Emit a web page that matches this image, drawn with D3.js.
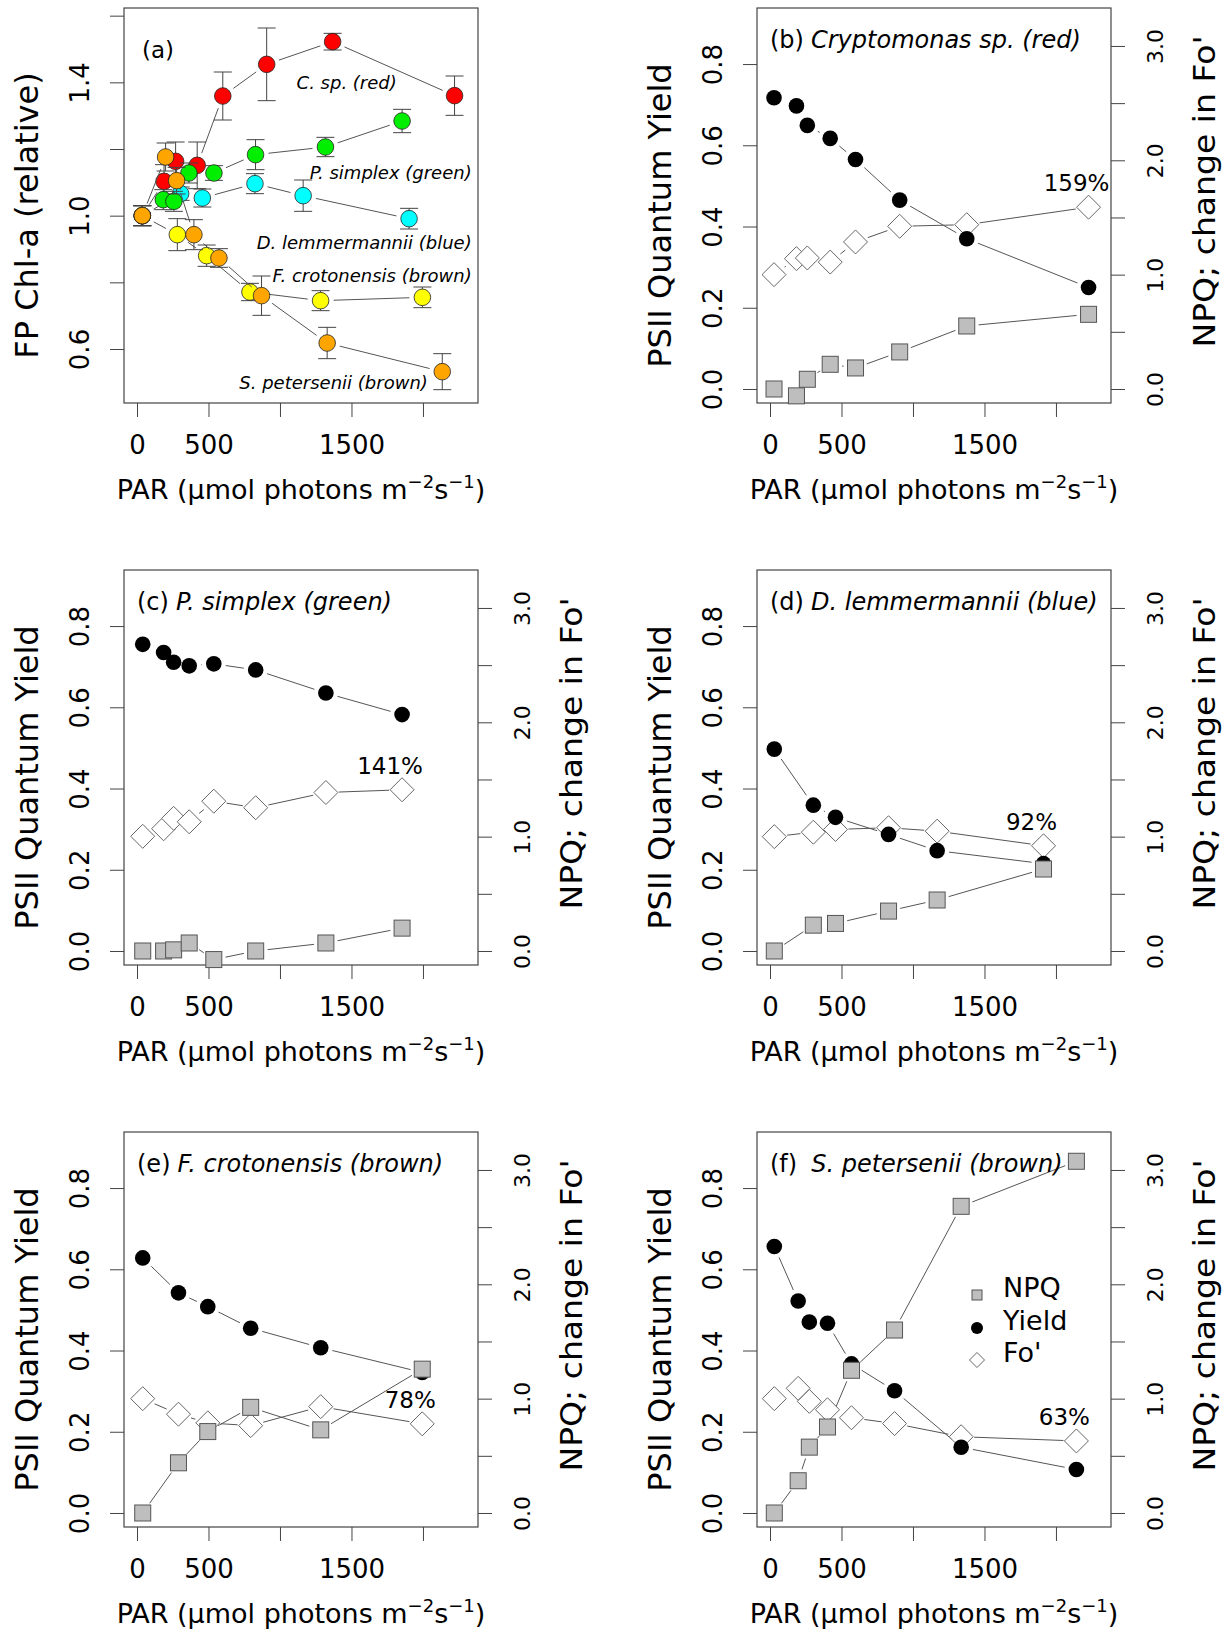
<!DOCTYPE html>
<html lang="en">
<head>
<meta charset="UTF-8">
<title>FP Chl-a and PSII response to PAR</title>
<script src="https://cdn.jsdelivr.net/npm/d3@7"></script>
<style>
  body { margin: 0; background: #fff; }
  svg text { font-family: "DejaVu Sans", Verdana, sans-serif; }
</style>
</head>
<body>
<svg id="fig" width="1226" height="1634"></svg>
<script>
// ---- panel (a): FP Chl-a relative to the dark value, mean +- error ----
const parRed = [37, 189, 270, 421, 600, 907, 1368, 2221];
const chlRed = [1.00, 1.103, 1.163, 1.151, 1.359, 1.454, 1.522, 1.36];
const errRed = [0.03, 0.05, 0.058, 0.07, 0.072, 0.109, 0.025, 0.059];

const parGreen = [37, 184, 258, 363, 538, 829, 1318, 1854];
const chlGreen = [1.00, 1.048, 1.043, 1.128, 1.128, 1.183, 1.206, 1.284];
const errGreen = [0.03, 0.03, 0.03, 0.03, 0.022, 0.045, 0.029, 0.035];

const parBlue = [37, 305, 457, 825, 1162, 1903];
const chlBlue = [1.00, 1.066, 1.053, 1.096, 1.06, 0.991];
const errBlue = [0.03, 0.02, 0.027, 0.03, 0.047, 0.031];

const parFcro = [37, 282, 487, 790, 1284, 1996];
const chlFcro = [1.00, 0.943, 0.88, 0.771, 0.745, 0.755];
const errFcro = [0.03, 0.048, 0.032, 0.026, 0.03, 0.031];

const parSpet = [37, 200, 277, 398, 573, 871, 1330, 2135];
const chlSpet = [1.00, 1.176, 1.105, 0.943, 0.873, 0.76, 0.618, 0.532];
const errSpet = [0.03, 0.042, 0.04, 0.045, 0.028, 0.059, 0.047, 0.054];

// ---- panels (b)-(f): PSII yield (left axis), NPQ and relative Fo' (right axis) ----
const parB = [28, 185, 261, 421, 598, 907, 1376, 2228];
const yieldB = [0.717, 0.697, 0.649, 0.617, 0.565, 0.465, 0.370, 0.250];
const foB = [1.00, 1.14, 1.146, 1.11, 1.286, 1.423, 1.437, 1.59];
const npqB = [0.0, -0.06, 0.085, 0.216, 0.184, 0.324, 0.551, 0.653];

const parC = [40, 186, 256, 365, 537, 830, 1321, 1854];
const yieldC = [0.755, 0.735, 0.711, 0.702, 0.707, 0.692, 0.635, 0.582];
const foC = [1.003, 1.069, 1.16, 1.13, 1.31, 1.253, 1.386, 1.41];
const npqC = [0.0, 0.0, 0.01, 0.07, -0.075, 0.0, 0.07, 0.2];

const parD = [30, 303, 458, 829, 1169, 1913];
const yieldD = [0.497, 0.359, 0.329, 0.287, 0.247, 0.215];
const foD = [1.00, 1.039, 1.063, 1.078, 1.048, 0.92];
const npqD = [0.0, 0.226, 0.241, 0.349, 0.446, 0.717];

const parE = [40, 290, 495, 795, 1285, 1995];
const yieldE = [0.628, 0.542, 0.508, 0.455, 0.407, 0.346];
const foE = [1.00, 0.864, 0.788, 0.764, 0.93, 0.78];
const npqE = [0.0, 0.439, 0.712, 0.924, 0.727, 1.258];

const parF = [30, 197, 275, 402, 570, 871, 1337, 2143];
const yieldF = [0.656, 0.522, 0.470, 0.467, 0.367, 0.301, 0.162, 0.107];
const foF = [1.00, 1.09, 0.976, 0.903, 0.833, 0.782, 0.667, 0.63];
const npqF = [0.0, 0.282, 0.576, 0.752, 1.248, 1.6, 2.682, 3.076];

// ---- ticks and labels ----
const xTicks = [0, 500, 1000, 1500, 2000];
const xLabeled = [0, 500, 1500];
const chlTicks = [0.6, 0.8, 1.0, 1.2, 1.4, 1.6];
const chlLabeled = [0.6, 1.0, 1.4];
const yieldTicks = [0, 0.2, 0.4, 0.6, 0.8];
const rightTicks = [0, 0.5, 1, 1.5, 2, 2.5, 3];
const rightLabeled = [0, 1, 2, 3];

const speciesLetters = ["(b)", "(c)", "(d)", "(e)", "(f)"];
const speciesNames = ["Cryptomonas sp. (red)", "P. simplex (green)", "D. lemmermannii (blue)",
                      "F. crotonensis (brown)", "S. petersenii (brown)"];
const foPercent = ["159%", "141%", "92%", "78%", "63%"];
const legendLabels = ["NPQ", "Yield", "Fo'"];

// panel (a) series labels, anchored (right end) in data units
const seriesLabels = ["C. sp. (red)", "P. simplex (green)", "D. lemmermannii (blue)",
                      "F. crotonensis (brown)", "S. petersenii (brown)"];
const seriesLabelPar = [1817, 2341, 2341, 2341, 2034];
const seriesLabelChl = [1.40, 1.13, 0.92, 0.821, 0.50];

// ---- layout ----
const W = 354, H = 395;
const colLeft = [124, 757];
const rowTop = [8, 570, 1132];
const INK = "#444";
const LINE = "#555";

const svg = d3.select("#fig");
svg.append("rect").attr("width", 1226).attr("height", 1634).attr("fill", "#fff");

const x = d3.scaleLinear().domain([-91, 2385]).range([0, W]);
const yChl = d3.scaleLinear().domain([0.438, 1.623]).range([H, 0]);
const yYield = d3.scaleLinear().domain([-0.0345, 0.938]).range([H, 0]);
const yRight = d3.scaleLinear().domain([-0.1225, 3.332]).range([H, 0]);

const has = (arr, d) => arr.some(v => Math.abs(v - d) < 1e-9);
const f1 = d3.format(".1f");

function panel(col, row) {
  return svg.append("g").attr("transform", `translate(${colLeft[col]},${rowTop[row]})`);
}

function cleanAxis(ax) {
  ax.select(".domain").remove();
  ax.selectAll(".tick line").attr("stroke", INK).attr("stroke-width", 1);
  ax.selectAll(".tick text").attr("fill", "#000");
}

function box(g) {
  g.append("rect").attr("width", W).attr("height", H)
    .attr("fill", "none").attr("stroke", INK).attr("stroke-width", 1.2);
}

function xAxis(g) {
  const ax = g.append("g").attr("transform", `translate(0,${H})`)
    .call(d3.axisBottom(x).tickValues(xTicks).tickSize(14)
      .tickFormat(d => has(xLabeled, d) ? d : ""));
  cleanAxis(ax);
  ax.selectAll(".tick text").attr("y", 42).attr("dy", "0.36em").attr("font-size", 26);

  const t = g.append("text").attr("x", W / 2).attr("y", H + 96)
    .attr("text-anchor", "middle").attr("font-size", 27);
  t.append("tspan").text("PAR (\u03bcmol photons m");
  t.append("tspan").attr("dy", -11).attr("font-size", 18).text("\u22122");
  t.append("tspan").attr("dy", 11).text("s");
  t.append("tspan").attr("dy", -11).attr("font-size", 18).text("\u22121");
  t.append("tspan").attr("dy", 11).text(")");
}

function yAxisLeft(g, scale, ticks, labeled, title) {
  const ax = g.append("g")
    .call(d3.axisLeft(scale).tickValues(ticks).tickSize(14)
      .tickFormat(d => has(labeled, d) ? f1(d) : ""));
  cleanAxis(ax);
  ax.selectAll(".tick text")
    .attr("x", 0).attr("y", -44).attr("dy", "0.36em")
    .attr("transform", "rotate(-90)").attr("text-anchor", "middle").attr("font-size", 26);
  g.append("text").attr("transform", `translate(-98,${H / 2 + 10}) rotate(-90)`)
    .attr("text-anchor", "middle").attr("dy", "0.36em").attr("font-size", 32).text(title);
}

function yAxisRight(g) {
  const ax = g.append("g").attr("transform", `translate(${W},0)`)
    .call(d3.axisRight(yRight).tickValues(rightTicks).tickSize(14)
      .tickFormat(d => has(rightLabeled, d) ? f1(d) : ""));
  cleanAxis(ax);
  ax.selectAll(".tick text")
    .attr("x", 0).attr("y", 44).attr("dy", "0.36em")
    .attr("transform", "rotate(-90)").attr("text-anchor", "middle").attr("font-size", 22);
  // stretched a little along its length to match the long label of the original
  g.append("text").attr("transform", `translate(${W + 93},${H / 2 - 14}) rotate(-90)`)
    .attr("text-anchor", "middle").attr("dy", "0.36em").attr("font-size", 30)
    .attr("textLength", 312).attr("lengthAdjust", "spacingAndGlyphs")
    .text("NPQ; change in Fo'");
}

// R type="b": segments stop short of the markers
function gapLine(g, pts, gap) {
  for (let i = 0; i < pts.length - 1; i++) {
    const [x0, y0] = pts[i], [x1, y1] = pts[i + 1];
    const dx = x1 - x0, dy = y1 - y0, len = Math.hypot(dx, dy);
    if (len <= 2 * gap) continue;
    const ux = dx / len, uy = dy / len;
    g.append("line")
      .attr("x1", x0 + ux * gap).attr("y1", y0 + uy * gap)
      .attr("x2", x1 - ux * gap).attr("y2", y1 - uy * gap)
      .attr("stroke", LINE).attr("stroke-width", 1);
  }
}

const diamondPath = s => `M0,${-s}L${s},0L0,${s}L${-s},0Z`;

function squares(g, pts, s) {
  g.selectAll(null).data(pts).join("rect")
    .attr("x", d => d[0] - s / 2).attr("y", d => d[1] - s / 2)
    .attr("width", s).attr("height", s)
    .attr("fill", "#bebebe").attr("stroke", "#555").attr("stroke-width", 1);
}
function dots(g, pts, r) {
  g.selectAll(null).data(pts).join("circle")
    .attr("cx", d => d[0]).attr("cy", d => d[1]).attr("r", r).attr("fill", "#000");
}
function diamonds(g, pts, s) {
  g.selectAll(null).data(pts).join("path")
    .attr("transform", d => `translate(${d[0]},${d[1]})`)
    .attr("d", diamondPath(s))
    .attr("fill", "#fff").attr("stroke", "#666").attr("stroke-width", 1);
}

// ---------------- panel (a) ----------------
{
  const g = panel(0, 0);
  box(g);
  xAxis(g);
  yAxisLeft(g, yChl, chlTicks, chlLabeled, "FP Chl-a (relative)");

  const series = [
    { par: parRed, chl: chlRed, err: errRed, color: "#ff0000" },
    { par: parBlue, chl: chlBlue, err: errBlue, color: "#00ffff" },
    { par: parGreen, chl: chlGreen, err: errGreen, color: "#00ee00" },
    { par: parFcro, chl: chlFcro, err: errFcro, color: "#ffff00" },
    { par: parSpet, chl: chlSpet, err: errSpet, color: "#ffa500" }
  ];

  series.forEach(s => {
    const pts = s.par.map((p, i) => [x(p), yChl(s.chl[i])]);
    gapLine(g, pts, 13);
    const cap = 9;
    s.par.forEach((p, i) => {
      const cx = x(p), yt = yChl(s.chl[i] + s.err[i]), yb = yChl(s.chl[i] - s.err[i]);
      const eb = g.append("g").attr("stroke", INK).attr("stroke-width", 1);
      eb.append("line").attr("x1", cx).attr("x2", cx).attr("y1", yt).attr("y2", yb);
      eb.append("line").attr("x1", cx - cap).attr("x2", cx + cap).attr("y1", yt).attr("y2", yt);
      eb.append("line").attr("x1", cx - cap).attr("x2", cx + cap).attr("y1", yb).attr("y2", yb);
    });
    g.selectAll(null).data(pts).join("circle")
      .attr("cx", d => d[0]).attr("cy", d => d[1]).attr("r", 8.3)
      .attr("fill", s.color).attr("stroke", "#222").attr("stroke-width", 0.8);
  });

  g.append("text").attr("x", 18).attr("y", 42).attr("dy", "0.36em")
    .attr("font-size", 23).text("(a)");

  seriesLabels.forEach((lab, i) => {
    g.append("text").attr("x", x(seriesLabelPar[i])).attr("y", yChl(seriesLabelChl[i]))
      .attr("dy", "0.36em").attr("text-anchor", "end")
      .attr("font-size", 18).attr("font-style", "italic").text(lab);
  });
}

// ---------------- panels (b)-(f) ----------------
const speciesData = [
  { par: parB, yld: yieldB, fo: foB, npq: npqB, col: 1, row: 0 },
  { par: parC, yld: yieldC, fo: foC, npq: npqC, col: 0, row: 1 },
  { par: parD, yld: yieldD, fo: foD, npq: npqD, col: 1, row: 1 },
  { par: parE, yld: yieldE, fo: foE, npq: npqE, col: 0, row: 2 },
  { par: parF, yld: yieldF, fo: foF, npq: npqF, col: 1, row: 2 }
];

speciesData.forEach((s, k) => {
  const g = panel(s.col, s.row);
  box(g);
  xAxis(g);
  yAxisLeft(g, yYield, yieldTicks, yieldTicks, "PSII Quantum Yield");
  yAxisRight(g);

  const foPts = s.par.map((p, i) => [x(p), yRight(s.fo[i])]);
  const yldPts = s.par.map((p, i) => [x(p), yYield(s.yld[i])]);
  const npqPts = s.par.map((p, i) => [x(p), yRight(s.npq[i])]);

  gapLine(g, foPts, 13);
  gapLine(g, yldPts, 12);
  gapLine(g, npqPts, 12);
  diamonds(g, foPts, 12);
  dots(g, yldPts, 7.8);
  squares(g, npqPts, 16);

  // title: letter upright, species name italic
  const t = g.append("text").attr("x", 13).attr("y", 31).attr("dy", "0.36em").attr("font-size", 24);
  t.append("tspan").text(speciesLetters[k]);
  t.append("tspan").attr("dx", k === 4 ? 14 : 7).attr("font-style", "italic").text(speciesNames[k]);

  // final Fo' as percent of the initial value
  const last = foPts[foPts.length - 1];
  g.append("text").attr("x", last[0] - 12).attr("y", last[1] - 24).attr("dy", "0.36em")
    .attr("text-anchor", "middle").attr("font-size", 23).text(foPercent[k]);

  if (k === 4) {
    const lx = 220, ly = [163, 196, 228];
    squares(g, [[lx, ly[0]]], 10);
    dots(g, [[lx, ly[1]]], 6);
    diamonds(g, [[lx, ly[2]]], 7.5);
    legendLabels.forEach((lab, i) => {
      g.append("text").attr("x", lx + 26).attr("y", ly[i] - 8).attr("dy", "0.36em")
        .attr("font-size", 27).text(lab);
    });
  }
});
</script>
</body>
</html>
